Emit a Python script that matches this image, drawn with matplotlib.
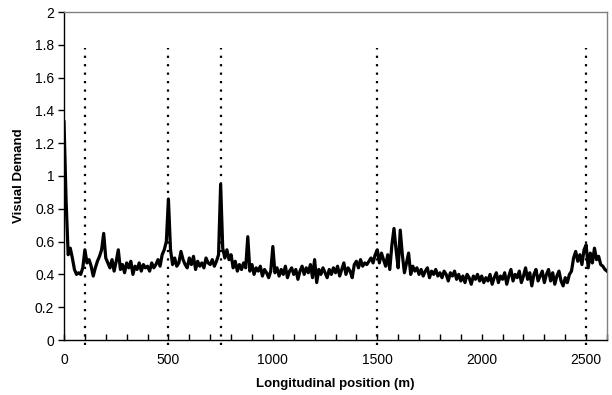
import numpy as np
import matplotlib
matplotlib.use("Agg")
import matplotlib.pyplot as plt
from matplotlib.ticker import MultipleLocator, FormatStrFormatter

plt.rcParams['font.family'] = ['Liberation Sans', 'DejaVu Sans']

# longitudinal position every 10 m, 0 .. 2600
position = np.arange(0, 2610, 10)

demand = [
    # 0-90
    1.33, 0.85, 0.52, 0.56, 0.50, 0.43, 0.40, 0.41, 0.40, 0.44,
    # 100-190
    0.55, 0.47, 0.49, 0.45, 0.39, 0.44, 0.48, 0.51, 0.55, 0.65,
    # 200-290
    0.50, 0.47, 0.44, 0.49, 0.42, 0.48, 0.55, 0.43, 0.46, 0.41,
    # 300-390
    0.47, 0.44, 0.48, 0.40, 0.45, 0.43, 0.47, 0.42, 0.46, 0.44,
    # 400-490
    0.45, 0.42, 0.47, 0.44, 0.46, 0.49, 0.45, 0.52, 0.55, 0.60,
    # 500-590
    0.86, 0.55, 0.46, 0.50, 0.45, 0.47, 0.54, 0.49, 0.46, 0.44,
    # 600-690
    0.50, 0.46, 0.51, 0.43, 0.48, 0.45, 0.47, 0.44, 0.50, 0.47,
    # 700-790
    0.46, 0.49, 0.45, 0.48, 0.52, 0.95, 0.56, 0.50, 0.55, 0.49,
    # 800-890
    0.52, 0.44, 0.48, 0.42, 0.46, 0.43, 0.47, 0.44, 0.63, 0.42,
    # 900-990
    0.46, 0.40, 0.44, 0.42, 0.45, 0.39, 0.43, 0.41, 0.38, 0.42,
    # 1000-1090
    0.57, 0.41, 0.44, 0.39, 0.43, 0.40, 0.45, 0.38, 0.42, 0.44,
    # 1100-1190
    0.40, 0.43, 0.37, 0.42, 0.45, 0.40, 0.44, 0.41, 0.46, 0.38,
    # 1200-1290
    0.49, 0.35, 0.43, 0.40, 0.44, 0.41, 0.38, 0.43, 0.40, 0.44,
    # 1300-1390
    0.41, 0.45, 0.39, 0.43, 0.47, 0.40, 0.44, 0.42, 0.38, 0.46,
    # 1400-1490
    0.48, 0.44, 0.49, 0.45, 0.47, 0.46, 0.48, 0.50, 0.47, 0.52,
    # 1500-1590
    0.55, 0.47, 0.53, 0.49, 0.45, 0.52, 0.43, 0.58, 0.68, 0.55,
    # 1600-1690
    0.44, 0.67, 0.52, 0.41, 0.47, 0.53, 0.40, 0.45, 0.42, 0.44,
    # 1700-1790
    0.40, 0.43, 0.39, 0.42, 0.44, 0.38, 0.42, 0.40, 0.43, 0.39,
    # 1800-1890
    0.41, 0.38, 0.42, 0.40, 0.36, 0.41, 0.39, 0.42, 0.37, 0.40,
    # 1900-1990
    0.36, 0.39, 0.35, 0.40, 0.38, 0.34, 0.39, 0.37, 0.40, 0.36,
    # 2000-2090
    0.39, 0.35, 0.38, 0.36, 0.40, 0.34, 0.38, 0.41, 0.35, 0.39,
    # 2100-2190
    0.37, 0.41, 0.34, 0.39, 0.43, 0.36, 0.40, 0.38, 0.42, 0.35,
    # 2200-2290
    0.39, 0.44, 0.37, 0.41, 0.33, 0.40, 0.43, 0.36, 0.39, 0.42,
    # 2300-2390
    0.35, 0.40, 0.43, 0.36, 0.41, 0.34, 0.39, 0.42, 0.36, 0.33,
    # 2400-2490
    0.38, 0.35, 0.40, 0.42, 0.50, 0.54, 0.48, 0.52, 0.46, 0.55,
    # 2500-2590
    0.58, 0.44, 0.53, 0.47, 0.56, 0.49, 0.51, 0.46, 0.45, 0.43,
    # 2600
    0.42,
]

# section boundaries (dotted markers)
markers = [100, 500, 750, 1500, 2500]
marker_bottom = -0.03
marker_top = 1.78

fig = plt.figure(figsize=(6.12, 3.95), dpi=100)
ax = fig.add_axes([64/612, 55/395, 543/612, 328/395])

for m in markers:
    ax.plot([m, m], [marker_bottom, marker_top], color='black', lw=1.6,
            linestyle=(0, (1, 2.8)), clip_on=False, zorder=2)

ax.plot(position, demand, color='black', lw=2.3, zorder=3)

ax.set_xlim(0, 2600)
ax.set_ylim(0, 2)
ax.xaxis.set_major_locator(MultipleLocator(500))
ax.xaxis.set_minor_locator(MultipleLocator(100))
ax.yaxis.set_major_locator(MultipleLocator(0.2))
ax.yaxis.set_major_formatter(FormatStrFormatter('%g'))

ax.tick_params(axis='x', which='both', direction='in', length=4, width=1,
               labelsize=10, pad=9)
ax.tick_params(axis='y', direction='out', length=4, width=1, labelsize=10, pad=3)

for s in ['top', 'right']:
    ax.spines[s].set_color('#808080')
    ax.spines[s].set_linewidth(1)
for s in ['left', 'bottom']:
    ax.spines[s].set_color('black')
    ax.spines[s].set_linewidth(1)

ax.set_xlabel('Longitudinal position (m)', fontsize=9.5, fontweight='bold', labelpad=8)
ax.set_ylabel('Visual Demand', fontsize=9.5, fontweight='bold', labelpad=7)

fig.savefig('out.png', dpi=100)
